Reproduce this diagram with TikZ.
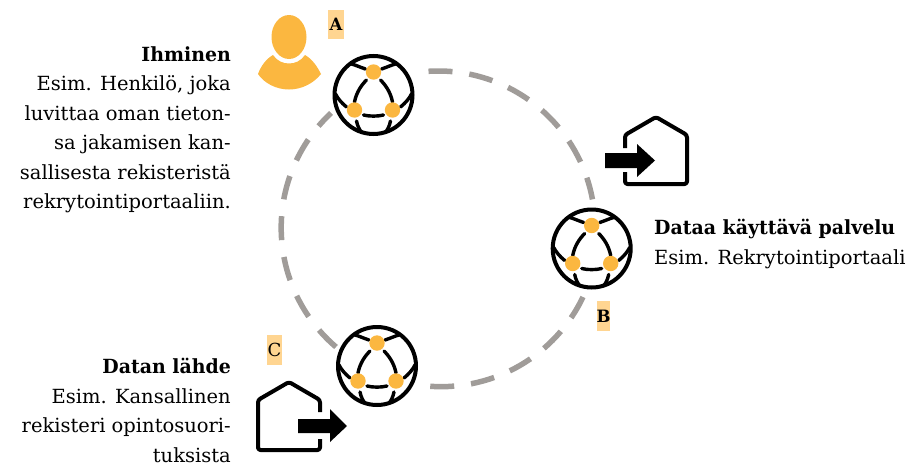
\documentclass[tikz,border=0pt]{standalone}
\usepackage{fontspec}
\setmainfont{DejaVu Serif}[BoldFeatures={FakeStretch=0.97}]
\definecolor{ringgrey}{HTML}{A09C99}
\definecolor{dotorange}{HTML}{FBB740}
\definecolor{tagorange}{HTML}{FFD591}
\tikzset{
  ring/.style={draw=ringgrey,line width=5.5pt,dash pattern=on 24pt off 17pt},
  netline/.style={draw=black,line width=3.4pt,line cap=round},
  dotnode/.style={fill=dotorange,draw=none},
  housepath/.style={draw=black,line width=4pt,line join=round,rounded corners=2.5pt},
  tagbox/.style={fill=tagorange,draw=none},
  tagtext/.style={font=\fontsize{17}{20}\selectfont\bfseries,inner sep=0pt},
  txt/.style={font=\fontsize{19.5}{29.5}\selectfont,inner sep=0pt},
  netsym/.pic={
    \draw[black,line width=4pt] (0,0) circle (39);
    \foreach \s in {1,-1}{
      \begin{scope}[xscale=\s]
      \draw[netline] (-8,-26) .. controls (-14,-28) and (-18,-30) .. (-22,-31);
      \draw[netline] (-27,12) .. controls (-32,8) and (-36,3) .. (-38,-1);
      \draw[netline] (-17,26) .. controls (-16,31) and (-14,35) .. (-12,37);
      \draw[netline] (-19,7) .. controls (-17,-3) and (-12,-10) .. (-7,-15);
      \end{scope}
    }
    \draw[netline] (-10,20) .. controls (-4,21.5) and (4,21.5) .. (10,20);
    \fill[dotnode] (0,-23) circle (7.7) (-19,15) circle (7.7) (19,15) circle (7.7);
  }
}
\begin{document}
\begin{tikzpicture}[x=1pt,y=-1pt]
\useasboundingbox (0,0) rectangle (911,466);
% ring
\draw[ring] (428.5,71.3) arc[start angle=-93.5,end angle=-10.5,radius=157];
\draw[ring] (583,297) arc[start angle=25.4,end angle=94,radius=157];
\draw[ring] (336,347) arc[start angle=130.6,end angle=227,radius=157];
% network symbols
\pic at (373.5,95) {netsym};
\pic at (591.7,248.5) {netsym};
\pic at (377,366) {netsym};
% person
\fill[dotorange] (289,37) ellipse[x radius=17.5,y radius=22];
\fill[dotorange] (273,55) .. controls (277,61) and (283,63.5) .. (289,63.5) .. controls (295,63.5) and (301,61) .. (305,55) .. controls (312,59) and (317,66) .. (321,74) .. controls (314,83) and (302,89.5) .. (289,89.5) .. controls (276,89.5) and (264,83) .. (258,74) .. controls (261,66) and (266,59) .. (273,55) -- cycle;
% houses
\draw[housepath] (625,148) -- (625,135) -- (656,117) -- (687,135) -- (687,184) -- (625,184) -- (625,172);
\fill[black] (605,153) -- (637,153) -- (637,144) -- (655,160.5) -- (637,177) -- (637,168) -- (605,168) -- cycle;
\draw[housepath] (320,412) -- (320,400) -- (289,382) -- (258,400) -- (258,450) -- (320,450) -- (320,439);
\fill[black] (298,419) -- (330,419) -- (330,409) -- (347,426) -- (330,442) -- (330,433) -- (298,433) -- cycle;
% tags
\fill[tagbox] (328,10) rectangle (344,39);
\node[tagtext] (tagA) at (336,24.5) {A};
\fill[tagbox] (597,301) rectangle (610,331);
\node[tagtext] (tagB) at (603.5,316) {B};
\fill[tagbox] (267,335) rectangle (282,365);
\node[tagtext,font=\fontsize{18}{20}\selectfont] (tagC) at (274.5,350) {C};
% texts
\node[txt,anchor=north east,align=right] (ihminen) at (231,46) {\textbf{Ihminen}\\Esim. Henkilö, joka\\luvittaa oman tieton-\\sa jakamisen kan-\\sallisesta rekisteristä\\rekrytointiportaaliin.};
\node[txt,anchor=north west,align=left] (palvelu) at (654,219) {\textbf{Dataa käyttävä palvelu}\\Esim. Rekrytointiportaali};
\node[txt,anchor=north east,align=right] (lahde) at (231,358) {\textbf{Datan lähde}\\Esim. Kansallinen\\rekisteri opintosuori-\\tuksista};
\end{tikzpicture}
\end{document}
